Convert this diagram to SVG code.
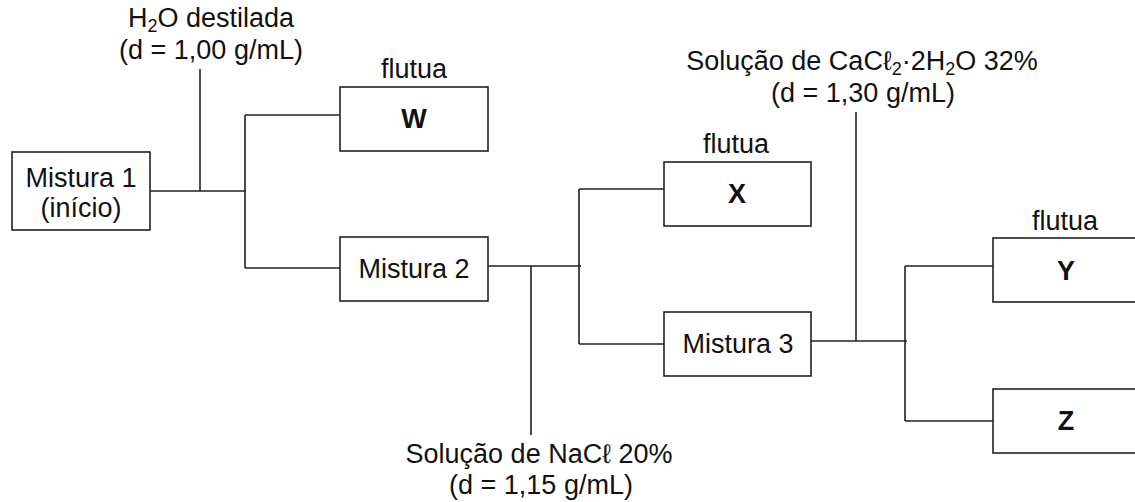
<svg xmlns="http://www.w3.org/2000/svg" width="1135" height="502" viewBox="0 0 1135 502">
<style>
.box{fill:#fff;stroke:#222;stroke-width:1.6}
.ln{fill:none;stroke:#222;stroke-width:1.6}
text{font-family:"Liberation Sans",Arial,sans-serif;font-size:27px;fill:#111;text-anchor:middle}
.b{font-weight:bold}
.sub{font-size:18px}
</style>
<rect width="1135" height="502" fill="#fff"/>
<g id="connectors">
<path class="ln" d="M150 191H246M200 69V191M245 115V268M245 115H340M245 268H340"/>
<path class="ln" d="M488 266H581M531 266V435M579 189V344M579 189H664M579 344H664"/>
<path class="ln" d="M811 341H907M856 112V341M905 266V421M905 266H993M905 421H993"/>
</g>
<g id="label-h2o">
<text x="211" y="27">H<tspan class="sub" dy="5">2</tspan><tspan dy="-5">O destilada</tspan></text>
<text x="211" y="59">(d = 1,00 g/mL)</text>
</g>
<g id="label-nacl">
<text x="539" y="463">Solução de NaCℓ 20%</text>
<text x="541" y="494">(d = 1,15 g/mL)</text>
</g>
<g id="label-cacl2">
<text x="862" y="70">Solução de CaCℓ<tspan class="sub" dy="5">2</tspan><tspan dy="-5">·2H</tspan><tspan class="sub" dy="5">2</tspan><tspan dy="-5">O 32%</tspan></text>
<text x="863" y="102">(d = 1,30 g/mL)</text>
</g>
<g id="mistura1">
<rect class="box" x="12" y="152" width="138" height="78"/>
<text x="81" y="187">Mistura 1</text>
<text x="81" y="217">(início)</text>
</g>
<g id="W">
<text x="414" y="78">flutua</text>
<rect class="box" x="340" y="87" width="148" height="64"/>
<text class="b" x="414" y="128">W</text>
</g>
<g id="mistura2">
<rect class="box" x="340" y="237" width="148" height="64"/>
<text x="414" y="278">Mistura 2</text>
</g>
<g id="X">
<text x="736" y="153">flutua</text>
<rect class="box" x="664" y="162" width="147" height="64"/>
<text class="b" x="737" y="203">X</text>
</g>
<g id="mistura3">
<rect class="box" x="664" y="312" width="147" height="64"/>
<text x="738" y="353">Mistura 3</text>
</g>
<g id="Y">
<text x="1065" y="230">flutua</text>
<rect class="box" x="993" y="238" width="150" height="64"/>
<text class="b" x="1066" y="280">Y</text>
</g>
<g id="Z">
<rect class="box" x="993" y="389" width="150" height="64"/>
<text class="b" x="1066" y="430">Z</text>
</g>
</svg>
